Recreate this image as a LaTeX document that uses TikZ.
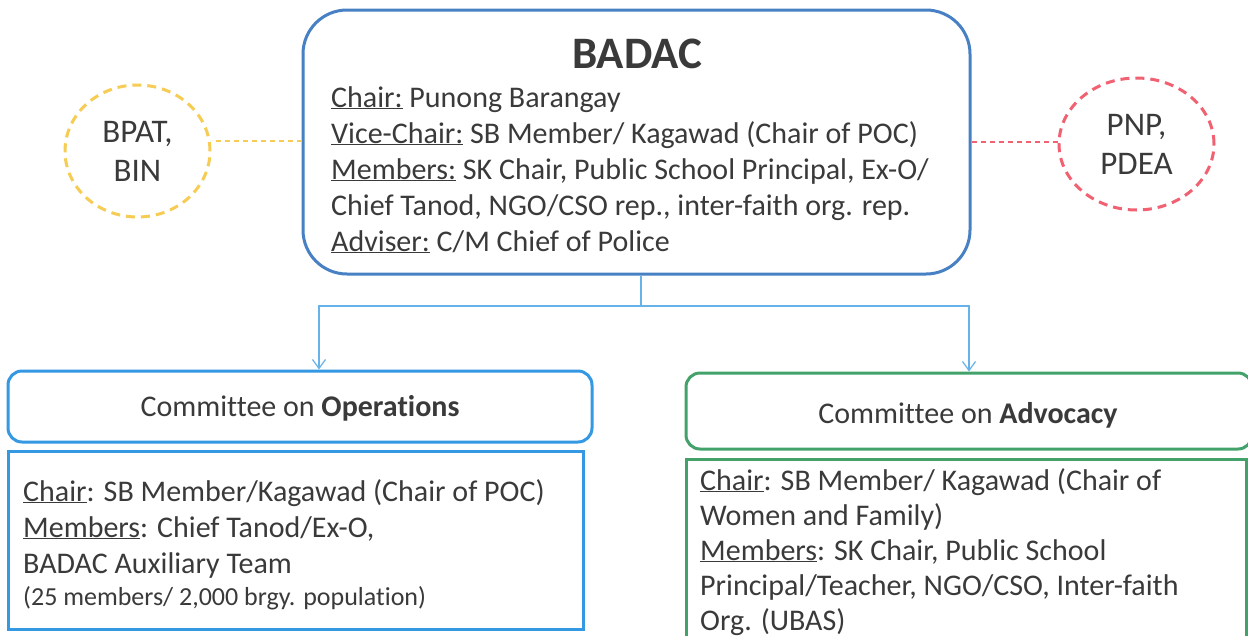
\documentclass[tikz,border=0pt]{standalone}
\usepackage{fontspec}
\setmainfont{Carlito}[Ligatures=NoCommon]
\usetikzlibrary{shapes.geometric}
\usetikzlibrary{positioning}
\usetikzlibrary{arrows.meta}

\definecolor{badacblue}{RGB}{72,128,196}
\definecolor{opsblue}{RGB}{52,152,226}
\definecolor{linkblue}{RGB}{104,178,234}
\definecolor{advgreen}{RGB}{66,162,106}
\definecolor{bpatyellow}{RGB}{246,204,84}
\definecolor{pnpred}{RGB}{240,98,114}
\definecolor{inkgray}{RGB}{58,58,58}

\tikzset{
  every node/.style={text=inkgray},
  orgbox/.style={draw,line width=3pt,inner sep=0pt},
  partner/.style={ellipse,draw,line width=3pt,dash pattern=on 9pt off 6pt,inner sep=0pt,
    align=center,font=\fontsize{33}{39}\selectfont},
  partnerlink/.style={line width=1.2pt,dash pattern=on 5pt off 4pt},
  bodytext/.style={anchor=base west,align=left,inner sep=0pt},
  branch/.style={draw=linkblue,line width=1.2pt},
  branchtip/.style={-{Straight Barb[length=9pt,width=13pt,line width=1.2pt]}}
}

\begin{document}
\begin{tikzpicture}[x=1pt,y=-1pt]
\useasboundingbox[fill=white] (0,0) rectangle (1248,635);

% main council
\node[orgbox,draw=badacblue,rounded corners=44pt,minimum width=667pt,minimum height=264pt] (badac) at (636.5,142) {};
\node[anchor=base,inner sep=0pt,font=\bfseries\fontsize{45}{45}\selectfont] (badactitle) at (637,68) {BADAC};
% base anchor sits on the last line
\node[bodytext,font=\fontsize{30}{36}\selectfont] (badacbody) at (331,251)
  {\underline{Chair:} Punong Barangay\\
   \underline{Vice-Chair:} SB Member/ Kagawad (Chair of POC)\\
   \underline{Members:} SK Chair, Public School Principal, Ex-O/\\
   Chief Tanod, NGO/CSO rep., inter-faith org. rep.\\
   \underline{Adviser:} C/M Chief of Police};

% partner agencies
\node[partner,draw=bpatyellow,minimum width=145pt,minimum height=132pt] (bpat) at (137.5,151) {BPAT,\\BIN};
\node[partner,draw=pnpred,minimum width=155pt,minimum height=132pt] (pnp) at (1136.5,144) {PNP,\\PDEA};
\draw[partnerlink,bpatyellow] (badac.west |- 0,141) -- (bpat.east |- 0,141);
\draw[partnerlink,pnpred] (badac.east |- 0,142) -- (pnp.west |- 0,142);

% committees
\node[orgbox,draw=opsblue,rounded corners=14pt,minimum width=584pt,minimum height=71pt] (opshead) at (300,406.5) {};
\node[anchor=base,inner sep=0pt,font=\fontsize{30}{30}\selectfont] (opstitle) at (300,416) {Committee on \textbf{Operations}};
\node[orgbox,draw=opsblue,minimum width=575pt,minimum height=178pt] (opsbody) at (295.5,540) {};
\node[bodytext,font=\fontsize{30}{36}\selectfont] (opstext) at (23,605)
  {\underline{Chair}: SB Member/Kagawad (Chair of POC)\\
   \underline{Members}: Chief Tanod/Ex-O,\\
   BADAC Auxiliary Team\\[-4pt]
   {\fontsize{26}{30}\selectfont (25 members/ 2,000 brgy. population)}};

\node[orgbox,draw=advgreen,rounded corners=14pt,minimum width=566pt,minimum height=76pt] (advhead) at (969,411) {};
\node[anchor=base,inner sep=0pt,font=\fontsize{30}{30}\selectfont] (advtitle) at (968,423) {Committee on \textbf{Advocacy}};
\node[orgbox,draw=advgreen,minimum width=560pt,minimum height=200pt] (advbody) at (966,559) {};
\node[bodytext,font=\fontsize{30}{35}\selectfont] (advtext) at (700,630)
  {\underline{Chair}: SB Member/ Kagawad (Chair of\\
   Women and Family)\\
   \underline{Members}: SK Chair, Public School\\
   Principal/Teacher, NGO/CSO, Inter-faith\\
   Org. (UBAS)};

% branches
\coordinate (fork) at (641,306);
\draw[branch] (badac.south -| fork) -- (fork);
\draw[branch,branchtip] (fork) -| ([xshift=19pt]opshead.north);
\draw[branch,branchtip] (fork) -| (advhead.north);

\end{tikzpicture}
\end{document}
